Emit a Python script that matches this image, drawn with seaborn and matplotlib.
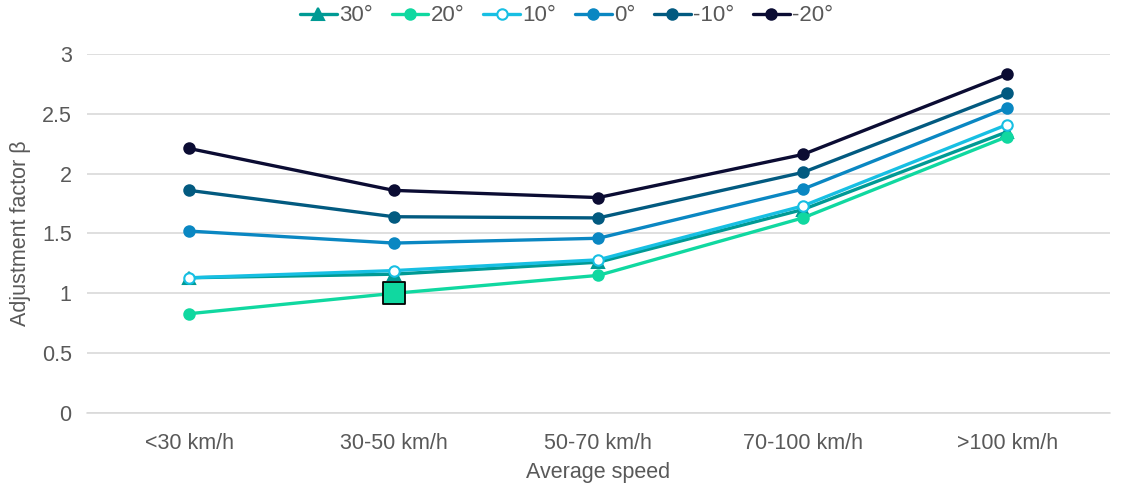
import matplotlib
matplotlib.use("Agg")
import matplotlib.pyplot as plt
import seaborn as sns
import pandas as pd

categories = ["<30 km/h", "30-50 km/h", "50-70 km/h", "70-100 km/h", ">100 km/h"]
series_names = ["30°", "20°", "10°", "0°", "-10°", "-20°"]
vals_30 = [1.13, 1.16, 1.26, 1.70, 2.35]
vals_20 = [0.83, 1.00, 1.15, 1.63, 2.31]
vals_10 = [1.13, 1.19, 1.28, 1.73, 2.41]
vals_0 = [1.52, 1.42, 1.46, 1.87, 2.55]
vals_m10 = [1.86, 1.64, 1.63, 2.01, 2.67]
vals_m20 = [2.21, 1.86, 1.80, 2.16, 2.83]
highlight_series = "20°"
highlight_index = 1

colors = ["#009a94", "#10d8a0", "#17bfe3", "#0a87c2", "#025a80", "#0b0c33"]

all_vals = [vals_30, vals_20, vals_10, vals_0, vals_m10, vals_m20]
df = pd.DataFrame({
    "pos": [i for _ in series_names for i in range(len(categories))],
    "value": [v for vals in all_vals for v in vals],
    "series": [s for s in series_names for _ in categories],
})

sns.set_style("white")
plt.rcParams["font.family"] = ["Liberation Sans", "DejaVu Sans"]

fig, ax = plt.subplots(figsize=(11.22, 4.9), dpi=100)
fig.subplots_adjust(left=0.0775, right=0.989, bottom=0.157, top=0.89)

gray = "#595959"
fs = 15.5
for name, color in zip(series_names, colors):
    sub = df[df["series"] == name]
    marker = "^" if name == "30°" else "o"
    face = "white" if name == "10°" else color
    sns.lineplot(data=sub, x="pos", y="value", ax=ax, color=color, linewidth=2.4,
                 marker=marker, markersize=8.5 if marker == "^" else 7.5,
                 markerfacecolor=face, markeredgecolor=color, markeredgewidth=1.5,
                 label=name, zorder=3)

hv = all_vals[series_names.index(highlight_series)][highlight_index]
ax.scatter([highlight_index], [hv], marker="s", s=230,
           color=colors[series_names.index(highlight_series)],
           edgecolor="black", linewidth=1.3, zorder=5)

ax.set_xlim(-0.5, len(categories) - 0.5)
ax.set_ylim(0, 3)
ax.set_yticks([0, 0.5, 1, 1.5, 2, 2.5, 3])
ax.set_yticklabels(["0", "0.5", "1", "1.5", "2", "2.5", "3"])
ax.set_xticks(range(len(categories)))
ax.set_xticklabels(categories)
ax.tick_params(axis="y", colors=gray, labelsize=fs, length=0, pad=11)
ax.tick_params(axis="x", colors=gray, labelsize=fs, length=0, pad=14)
ax.grid(axis="y", color="#d9d9d9", linewidth=1.2)
ax.axhline(0, color="#d9d9d9", linewidth=1.2, clip_on=False, zorder=1)
ax.set_axisbelow(True)
for s in ax.spines.values():
    s.set_visible(False)

ax.set_xlabel("Average speed", color=gray, fontsize=fs, labelpad=6)
ax.set_ylabel("Adjustment factor β", color=gray, fontsize=fs, labelpad=8)

ax.get_legend().remove()
handles, labels = ax.get_legend_handles_labels()
leg = fig.legend(handles, labels, loc="upper center", bbox_to_anchor=(0.505, 1.03),
                 ncol=6, frameon=False, fontsize=16, handlelength=1.65,
                 handletextpad=0.1, columnspacing=0.85)
for t in leg.get_texts():
    t.set_color(gray)

fig.savefig("out.png", dpi=100)
